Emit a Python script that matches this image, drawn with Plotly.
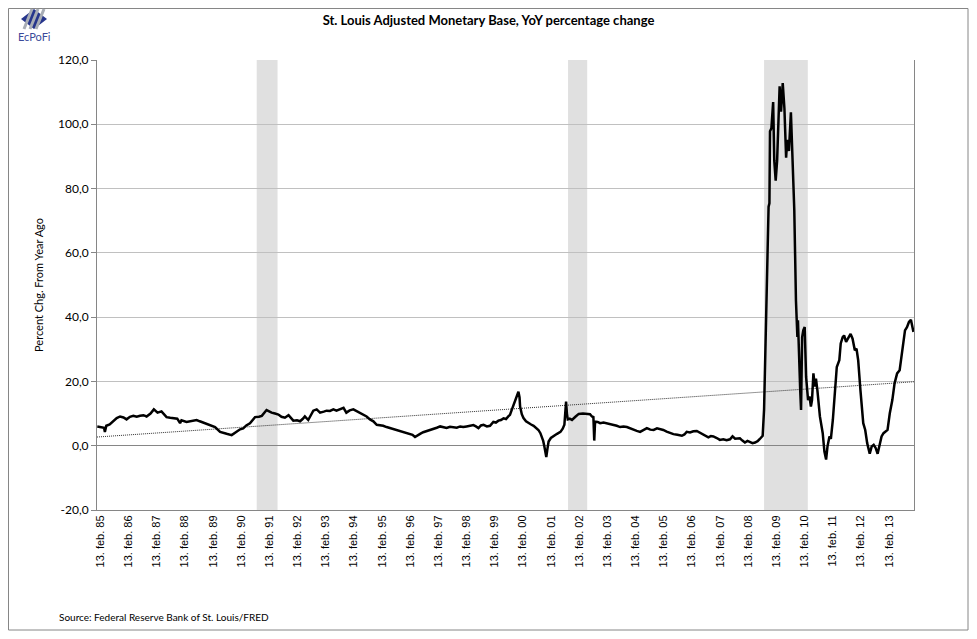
import plotly.graph_objects as go
import pandas as pd

# YoY % change of the St. Louis adjusted monetary base (decimal years)
years = [1985.01, 1985.15, 1985.25, 1985.28, 1985.33, 1985.45, 1985.58, 1985.70, 1985.82, 1985.94,
         1986.05, 1986.17, 1986.29, 1986.41, 1986.53, 1986.65, 1986.76, 1986.90, 1987.02, 1987.15,
         1987.29, 1987.40, 1987.47, 1987.60, 1987.71, 1987.85, 1987.95, 1988.00, 1988.18, 1988.36,
         1988.54, 1988.65, 1988.77, 1988.90, 1989.01, 1989.19, 1989.37, 1989.50, 1989.60, 1989.78,
         1989.96, 1990.08, 1990.19, 1990.30, 1990.43, 1990.61, 1990.75, 1990.85, 1991.02, 1991.10,
         1991.20, 1991.32, 1991.44, 1991.55, 1991.67, 1991.80, 1991.90, 1991.97, 1992.10, 1992.21,
         1992.30, 1992.38, 1992.50, 1992.60, 1992.68, 1992.80, 1992.92, 1993.05, 1993.15, 1993.27,
         1993.39, 1993.50, 1993.62, 1993.75, 1993.85, 1993.97, 1994.10, 1994.20, 1994.33, 1994.45,
         1994.57, 1994.69, 1994.81, 1994.93, 1995.05, 1995.16, 1995.28, 1995.40, 1995.52, 1995.64,
         1995.75, 1995.87, 1995.99, 1996.11, 1996.20, 1996.29, 1996.38, 1996.47, 1996.58, 1996.70,
         1996.82, 1996.94, 1997.06, 1997.18, 1997.30, 1997.41, 1997.53, 1997.65, 1997.77, 1997.89,
         1998.00, 1998.12, 1998.24, 1998.36, 1998.45, 1998.54, 1998.63, 1998.72, 1998.84, 1998.95,
         1999.07, 1999.16, 1999.25, 1999.34, 1999.43, 1999.52, 1999.60, 1999.66, 1999.72, 1999.78,
         1999.84, 1999.90, 1999.96, 2000.00, 2000.02, 2000.08, 2000.14, 2000.23, 2000.32, 2000.41,
         2000.50, 2000.59, 2000.67, 2000.74, 2000.79, 2000.84, 2000.88, 2000.92, 2000.95, 2000.99,
         2001.03, 2001.11, 2001.21, 2001.33, 2001.45, 2001.53, 2001.59, 2001.63, 2001.65, 2001.68,
         2001.71, 2001.78, 2001.86, 2001.98, 2002.10, 2002.25, 2002.39, 2002.50, 2002.57, 2002.62,
         2002.65, 2002.68, 2002.77, 2002.86, 2002.98, 2003.10, 2003.22, 2003.34, 2003.45, 2003.57,
         2003.69, 2003.81, 2003.93, 2004.05, 2004.16, 2004.28, 2004.40, 2004.52, 2004.64, 2004.76,
         2004.88, 2004.99, 2005.10, 2005.22, 2005.35, 2005.46, 2005.60, 2005.76, 2005.85, 2005.93,
         2006.05, 2006.17, 2006.29, 2006.40, 2006.52, 2006.61, 2006.70, 2006.79, 2006.88, 2007.00,
         2007.11, 2007.23, 2007.35, 2007.47, 2007.56, 2007.65, 2007.72, 2007.82, 2007.91, 2008.00,
         2008.09, 2008.18, 2008.27, 2008.36, 2008.45, 2008.53, 2008.63, 2008.68, 2008.72, 2008.75,
         2008.80, 2008.84, 2008.87, 2008.89, 2008.94, 2009.00, 2009.04, 2009.09, 2009.14, 2009.19,
         2009.23, 2009.28, 2009.34, 2009.40, 2009.46, 2009.50, 2009.56, 2009.63, 2009.68, 2009.75,
         2009.81, 2009.83, 2009.86, 2009.88, 2009.92, 2009.96, 2009.99, 2010.03, 2010.07, 2010.12,
         2010.17, 2010.24, 2010.29, 2010.34, 2010.38, 2010.43, 2010.48, 2010.52, 2010.57, 2010.66,
         2010.76, 2010.82, 2010.88, 2010.93, 2011.00, 2011.05, 2011.12, 2011.20, 2011.26, 2011.35,
         2011.40, 2011.47, 2011.52, 2011.59, 2011.67, 2011.75, 2011.82, 2011.90, 2011.96, 2012.02,
         2012.10, 2012.20, 2012.27, 2012.34, 2012.43, 2012.50, 2012.57, 2012.64, 2012.71, 2012.78,
         2012.85, 2012.92, 2012.99, 2013.06, 2013.14, 2013.23, 2013.31, 2013.40, 2013.49, 2013.56,
         2013.61, 2013.68, 2013.75, 2013.82, 2013.89, 2013.93, 2013.98]
values = [6.0, 5.8, 5.6, 4.3, 6.2, 6.6, 7.8, 8.6, 9.1, 8.8,
          8.2, 9.0, 9.3, 9.0, 9.3, 9.5, 9.1, 10.0, 11.3, 10.3,
          10.7, 9.5, 8.9, 8.7, 8.6, 8.4, 7.0, 7.9, 7.4, 7.7,
          8.0, 7.6, 7.2, 7.0, 6.6, 5.8, 4.3, 3.9, 3.7, 3.3,
          4.5, 5.1, 5.4, 6.3, 7.0, 8.9, 9.0, 9.3, 11.1, 10.7,
          10.3, 10.0, 9.7, 9.0, 8.7, 9.5, 8.3, 7.8, 7.9, 7.6,
          8.3, 9.1, 8.0, 9.5, 10.9, 11.3, 10.3, 10.6, 10.9, 10.8,
          11.3, 10.9, 11.3, 11.8, 10.3, 11.0, 11.3, 10.8, 10.1, 9.7,
          9.1, 8.2, 7.6, 6.5, 6.4, 6.2, 5.8, 5.5, 5.2, 4.9,
          4.6, 4.3, 4.0, 3.7, 3.4, 2.7, 3.3, 3.7, 4.2, 4.5,
          4.9, 5.2, 5.6, 6.0, 5.7, 5.5, 5.9, 5.8, 5.6, 6.0,
          5.8, 6.0, 6.1, 6.4, 6.0, 5.5, 6.3, 6.5, 6.0, 6.2,
          7.4, 7.2, 7.8, 8.0, 8.5, 8.3, 9.1, 9.6, 11.1, 12.6,
          14.2, 15.5, 16.8, 15.0, 12.2, 9.8, 8.6, 7.6, 7.0, 6.6,
          6.2, 5.6, 4.9, 3.9, 2.9, 1.5, -0.2, -2.0, -3.5, -1.0,
          1.3, 2.4, 3.1, 3.7, 4.3, 5.3, 6.5, 10.0, 13.7, 10.0,
          8.2, 8.4, 8.0, 9.0, 9.9, 10.0, 9.9, 9.8, 9.1, 8.9,
          1.6, 7.5, 7.4, 7.0, 7.2, 7.0, 6.7, 6.5, 6.2, 5.8,
          6.0, 5.8, 5.3, 4.9, 4.6, 4.3, 4.8, 5.5, 5.0, 4.9,
          5.4, 5.2, 4.9, 4.4, 3.9, 3.6, 3.4, 3.1, 3.5, 4.3,
          4.1, 4.5, 4.6, 4.0, 3.6, 3.1, 2.6, 3.0, 2.9, 2.4,
          1.8, 2.0, 1.7, 2.0, 2.9, 2.2, 2.3, 2.3, 1.6, 1.0,
          1.5, 1.2, 0.8, 1.0, 1.4, 2.1, 3.1, 11.3, 25.0, 36.9,
          55.0, 74.4, 75.4, 97.8, 98.8, 106.9, 88.6, 82.5, 88.6, 100.8,
          111.8, 103.9, 112.8, 104.9, 89.6, 95.2, 91.7, 103.7, 90.7, 73.4,
          45.0, 39.0, 33.8, 39.0, 24.5, 17.3, 11.1, 33.8, 35.9, 36.9,
          21.4, 14.2, 15.3, 12.2, 14.2, 22.5, 18.4, 20.9, 17.3, 9.1,
          3.9, -1.8, -4.3, -0.2, 2.9, 2.1, 8.0, 18.4, 24.5, 26.6,
          31.8, 33.8, 34.3, 32.3, 33.8, 34.8, 33.3, 29.7, 30.2, 26.6,
          17.3, 7.0, 4.9, 0.8, -2.5, -0.2, 0.3, -0.7, -2.5, 0.8,
          2.9, 3.9, 4.4, 4.9, 10.1, 14.2, 19.4, 22.5, 23.5, 27.6,
          31.8, 35.9, 36.9, 38.5, 39.2, 37.9, 35.4]

# linear trend (dotted), end points
trend_years = [1985.0, 2014.0]
trend_values = [2.7, 19.9]

# grey shaded bands
recession_starts = [1990.67, 2001.72, 2008.68]
recession_ends = [1991.41, 2002.40, 2010.23]

tick_years = list(range(1985, 2014))
tick_labels = ["13. feb. %02d" % (y % 100) for y in tick_years]
y_ticks = [-20, 0, 20, 40, 60, 80, 100, 120]
y_tick_labels = [("%.1f" % v).replace(".", ",") for v in y_ticks]


def to_date(y):
    start = pd.Timestamp(year=int(y), month=1, day=1)
    return start + pd.Timedelta(days=(y - int(y)) * 365.25)


dates = [to_date(y) for y in years]
trend_dates = [to_date(y) for y in trend_years]
tick_dates = [pd.Timestamp(year=y, month=2, day=13) for y in tick_years]

# the page body adds an 8px offset, so the figure is a bit smaller than the window
OFF = 8
W, H = 977 - 2 * OFF, 639 - 2 * OFF
L, R, T, B = 97, 914, 60, 510   # plot area in window pixels


# window pixel -> paper helpers for the decorations outside the plot
def px(x):
    return (x - L) / (R - L)


def py(y):
    return (B - y) / (B - T)


fig = go.Figure()
fig.add_trace(go.Scatter(x=trend_dates, y=trend_values, mode="lines",
                         line=dict(color="#303030", width=1, dash="1px,1px"),
                         hoverinfo="skip", showlegend=False))
fig.add_trace(go.Scatter(x=dates, y=values, mode="lines",
                         line=dict(color="black", width=2.5),
                         showlegend=False))

shapes = []
for s, e in zip(recession_starts, recession_ends):
    shapes.append(dict(type="rect", xref="x", yref="paper", x0=to_date(s), x1=to_date(e),
                       y0=0, y1=1, fillcolor="#E0E0E0", line=dict(width=0), layer="below"))
# outer chart border
shapes.append(dict(type="rect", xref="paper", yref="paper", x0=px(OFF + 0.5), x1=px(OFF + W - 1),
                   y0=py(OFF + H - 1), y1=py(OFF + 0.5), line=dict(color="#868686", width=1)))
# logo: blue diamond with grey ribbons
shapes.append(dict(type="path", xref="paper", yref="paper",
                   path="M %f,%f L %f,%f L %f,%f L %f,%f Z" % (px(21), py(19), px(34), py(9),
                                                               px(47), py(19), px(34), py(29)),
                   fillcolor="#26358C", line=dict(width=0)))
for dx in (-6, 0, 6):
    shapes.append(dict(type="line", xref="paper", yref="paper",
                       x0=px(38 + dx), y0=py(9), x1=px(30 + dx), y1=py(29),
                       line=dict(color="#A8ADB5", width=3)))

annotations = [
    dict(text="EcPoFi", xref="paper", yref="paper", x=px(34), y=py(36),
         xanchor="center", yanchor="middle", showarrow=False,
         font=dict(family="Lato", size=11, color="#3B4A9A")),
    dict(text="Source: Federal Reserve Bank of St. Louis/FRED", xref="paper", yref="paper",
         x=px(57), y=py(617), xanchor="left", yanchor="middle", showarrow=False,
         font=dict(family="Lato", size=10, color="black")),
]

fig.update_layout(
    width=W, height=H,
    margin=dict(l=L - OFF, r=OFF + W - R, t=T - OFF, b=OFF + H - B),
    paper_bgcolor="white", plot_bgcolor="white",
    title=dict(text="<b>St. Louis Adjusted Monetary Base, YoY percentage change</b>",
               x=0.5, xanchor="center", y=1 - (20 - OFF) / H, yanchor="middle",
               font=dict(family="Lato", size=13, color="black")),
    shapes=shapes,
    annotations=annotations,
    xaxis=dict(type="date", range=[to_date(1985.0), to_date(2014.0)],
               tickvals=tick_dates, ticktext=tick_labels, tickangle=-90,
               showgrid=False, showline=True, linecolor="#868686", linewidth=1,
               ticks="", tickfont=dict(family="Liberation Sans", size=11, color="black")),
    yaxis=dict(range=[-20, 120], tickvals=y_ticks, ticktext=y_tick_labels,
               showgrid=True, gridcolor="#C0C0C0", gridwidth=1,
               zeroline=True, zerolinecolor="#868686", zerolinewidth=1,
               showline=True, linecolor="#868686", linewidth=1, mirror=True,
               ticks="outside", ticklen=5, tickcolor="#868686",
               tickfont=dict(family="Lato", size=12, color="black"),
               title=dict(text="Percent Chg. From Year Ago", standoff=12,
                          font=dict(family="Lato", size=11, color="black"))),
)

fig.write_html("out.html")
